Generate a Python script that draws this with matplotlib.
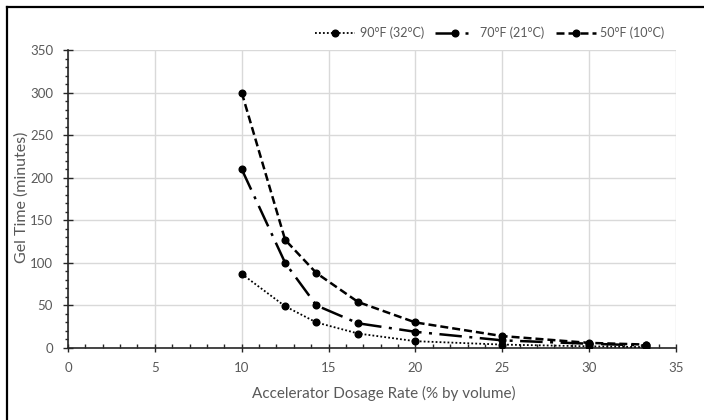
import matplotlib
matplotlib.use("Agg")
import matplotlib.pyplot as plt
from matplotlib.ticker import MultipleLocator
from matplotlib.lines import Line2D

# ---- data ----
dosage = [10, 12.5, 14.3, 16.7, 20, 25, 30, 33.3]
gel_90F = [87, 49, 30, 17, 8, 4, 2, 1]
gel_70F = [210, 100, 50, 29, 19, 9, 5, 3]
gel_50F = [300, 127, 88, 54, 30, 14, 6, 4]
labels = ["90°F (32°C)", "70°F (21°C)", "50°F (10°C)"]
x_title = "Accelerator Dosage Rate (% by volume)"
y_title = "Gel Time (minutes)"

plt.rcParams['font.family'] = ['Lato', 'DejaVu Sans']
TXT = '#595959'

fig = plt.figure(figsize=(7.04, 4.2), dpi=100)
ax = fig.add_axes([68/704, 1-348/420, (676-68)/704, (348-50)/420])

styles = [
    dict(linestyle=(0, (1, 1.2)), linewidth=1.3),
    dict(linestyle=(0, (9, 3, 1.2, 3)), linewidth=1.8),
    dict(linestyle=(0, (3.2, 1.6)), linewidth=1.8),
]
for ys, lab, st in zip([gel_90F, gel_70F, gel_50F], labels, styles):
    ax.plot(dosage, ys, color='black', marker='o', markersize=4.8,
            label=lab, zorder=3, **st)

ax.set_xlim(0, 35)
ax.set_ylim(0, 350)
ax.xaxis.set_major_locator(MultipleLocator(5))
ax.xaxis.set_minor_locator(MultipleLocator(1))
ax.yaxis.set_major_locator(MultipleLocator(50))
ax.yaxis.set_minor_locator(MultipleLocator(10))
ax.grid(True, which='major', color='#d9d9d9', linewidth=1.0, zorder=0)
ax.set_axisbelow(True)
for s in ['top', 'right']:
    ax.spines[s].set_visible(False)
for s in ['left', 'bottom']:
    ax.spines[s].set_color('#262626')
    ax.spines[s].set_linewidth(1.2)
ax.tick_params(axis='both', which='major', labelsize=9.5, labelcolor=TXT,
               color='#262626', width=1.0)
ax.tick_params(axis='x', which='major', direction='inout', length=6, pad=7)
ax.tick_params(axis='x', which='minor', direction='in', length=3, width=1.0, color='#262626')
ax.tick_params(axis='y', which='major', direction='inout', length=6.5, pad=7.5)
ax.tick_params(axis='y', which='minor', direction='out', length=2.5, width=1.0, color='#262626')

ax.set_xlabel(x_title, fontsize=11, color=TXT)
ax.xaxis.set_label_coords((384-68)/608, (348-386)/298)
ax.set_ylabel(y_title, fontsize=11.5, color=TXT)
ax.yaxis.set_label_coords((29-68)/608, 0.505)

leg = fig.legend(loc='center right', bbox_to_anchor=(676/704, 1-33/420),
                 ncol=3, frameon=False, fontsize=9, handlelength=3.2,
                 columnspacing=0.9, handletextpad=0.4, labelcolor=TXT)

# outer chart border (left and top visible)
fig.add_artist(Line2D([7/704, 7/704], [-0.05, 1-7/420], transform=fig.transFigure,
                      color='black', linewidth=1.6))
fig.add_artist(Line2D([7/704, 1.05], [1-7/420, 1-7/420], transform=fig.transFigure,
                      color='black', linewidth=1.6))

fig.savefig('out.png', dpi=100)
